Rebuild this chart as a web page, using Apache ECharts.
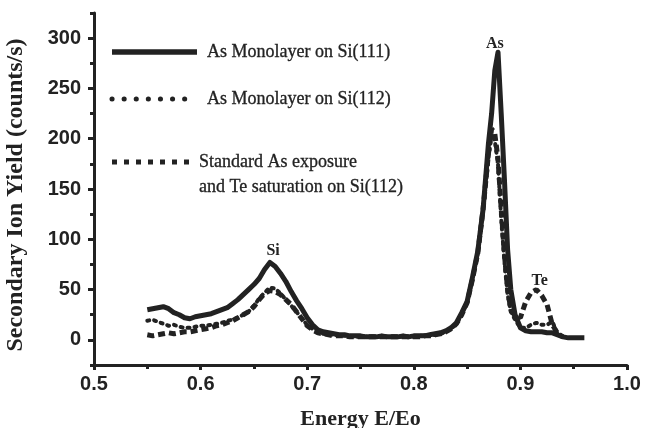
<!DOCTYPE html>
<html>
<head>
<meta charset="utf-8">
<script src="https://cdn.jsdelivr.net/npm/echarts@6/dist/echarts.min.js"></script>
<style>
  html, body { margin: 0; padding: 0; background: #fff; }
  #chart { width: 651px; height: 428px; }
</style>
</head>
<body>
<div id="chart"></div>
<script>
// Energy axis (E/Eo) shared by all three spectra
const energy = [
  0.550, 0.555, 0.560, 0.565, 0.570, 0.575, 0.580, 0.585, 0.590, 0.595,
  0.600, 0.605, 0.610, 0.615, 0.620, 0.625, 0.630, 0.635, 0.640, 0.645,
  0.650, 0.655, 0.660, 0.665, 0.670, 0.675, 0.680, 0.685, 0.690, 0.695,
  0.700, 0.705, 0.710, 0.715, 0.720, 0.725, 0.730, 0.735, 0.740, 0.745,
  0.750, 0.755, 0.760, 0.765, 0.770, 0.775, 0.780, 0.785, 0.790, 0.795,
  0.800, 0.805, 0.810, 0.815, 0.820, 0.825, 0.830, 0.835, 0.840, 0.845,
  0.850, 0.855, 0.860, 0.865, 0.870, 0.873, 0.876, 0.879, 0.882, 0.885,
  0.888, 0.891, 0.895, 0.900, 0.905, 0.910, 0.915, 0.920, 0.925, 0.930,
  0.935, 0.940, 0.945, 0.950, 0.955, 0.960
];

// Secondary ion yield (counts/s)
const asOnSi111 = [
  30, 31, 32, 33, 31, 27, 25, 22, 21, 23,
  24, 25, 26, 28, 30, 32, 36, 40, 45, 50,
  55, 61, 70, 77, 73, 66, 58, 48, 39, 31,
  22, 15, 10, 8, 7, 6, 5, 5, 4, 4,
  4, 3, 3, 3, 4, 3, 3, 3, 4, 3,
  4, 4, 4, 5, 6, 7, 9, 12, 17, 27,
  38, 62, 88, 130, 195, 225, 268, 286, 225, 160,
  90, 50, 25, 12, 9, 8, 8, 8, 7, 7,
  5, 3, 2, 2, 2, 2
];

const asOnSi112 = [
  19, 20, 18, 16, 14, 15, 13, 12, 12, 13,
  14, 14, 15, 16, 17, 19, 20, 22, 25, 28,
  34, 41, 47, 52, 51, 46, 40, 34, 28, 21,
  15, 11, 8, 6, 5, 5, 4, 4, 4, 3,
  3, 3, 3, 3, 3, 3, 3, 3, 3, 3,
  3, 4, 4, 4, 5, 6, 8, 11, 16, 25,
  37, 60, 86, 128, 180, 205, 198, 175, 120, 78,
  45, 28, 20, 12, 12, 15, 17, 15, 15, 18,
  6, 3, null, null, null, null
];

const asTeOnSi112 = [
  5, 4, 5, 6, 7, 6, 7, 8, 8, 9,
  10, 11, 12, 14, 15, 17, 19, 22, 25, 28,
  33, 40, 46, 49, 48, 45, 40, 35, 28, 21,
  14, 10, 7, 6, 5, 4, 4, 4, 3, 3,
  3, 3, 3, 3, 3, 3, 3, 3, 3, 3,
  3, 3, 4, 4, 5, 6, 8, 11, 16, 25,
  37, 60, 86, 130, 185, 210, 205, 180, 130, 85,
  50, 30, 24, 22, 38, 47, 50, 44, 35, 15,
  6, 3, null, null, null, null
];

const seriesNames = [
  'As Monolayer on Si(111)',
  'As Monolayer on Si(112)',
  'Standard As exposure\nand Te saturation on Si(112)'
];

// Peak labels: [text, energy, yield]
const peakLabels = [
  ['Si', 0.668, 88],
  ['As', 0.876, 294],
  ['Te', 0.918, 59]
];

const yLabelValues = [0, 50, 100, 150, 200, 250, 300];

const ink = '#222';
const serif = '"Liberation Serif", "Times New Roman", serif';
const sans = '"Liberation Sans", Arial, sans-serif';

const zip = (xs, ys) => xs.map((x, i) => [x, ys[i]]);

const chart = echarts.init(document.getElementById('chart'), null, { renderer: 'canvas' });

// Hand-placed key in the upper-left of the plot
const legendRows = [
  { y: 52, x2: 197, dash: null, width: 5.5, cap: 'butt', text: seriesNames[0], tx: 207 },
  { y: 99, x2: 190, dash: [0.1, 12], width: 5, cap: 'round', text: seriesNames[1], tx: 207 },
  { y: 162, x2: 190, dash: [5, 7], width: 5, cap: 'butt', text: seriesNames[2], tx: 199 }
];

const legendGraphics = [];
legendRows.forEach(r => {
  legendGraphics.push({
    type: 'line',
    shape: { x1: 112, y1: r.y, x2: r.x2, y2: r.y },
    style: { stroke: ink, lineWidth: r.width, lineDash: r.dash, lineCap: r.cap }
  });
  legendGraphics.push({
    type: 'text',
    x: r.tx,
    y: r.y - 12,
    style: {
      text: r.text,
      font: '18px ' + serif,
      fill: ink,
      lineHeight: 25,
      stroke: ink,
      lineWidth: 0.3
    }
  });
});

chart.setOption({
  animation: false,
  backgroundColor: '#fff',
  grid: { left: 94, right: 24, top: 13, bottom: 63, outerBoundsMode: 'none', containLabel: false },
  xAxis: {
    type: 'value',
    min: 0.5,
    max: 1.0,
    interval: 0.1,
    name: 'Energy E/Eo',
    nameLocation: 'middle',
    nameGap: 43,
    nameTextStyle: { fontFamily: serif, fontWeight: 'bold', fontSize: 22, color: ink },
    axisLine: { show: true, onZero: false, lineStyle: { color: ink, width: 3 } },
    axisTick: { show: true, length: 5, lineStyle: { color: ink, width: 3 } },
    minorTick: { show: true, splitNumber: 2, length: 4, lineStyle: { color: ink, width: 3 } },
    axisLabel: {
      margin: 9,
      fontFamily: sans, fontWeight: 'bold', fontSize: 20, color: ink,
      formatter: v => v.toFixed(1)
    },
    splitLine: { show: false }
  },
  yAxis: [
    {
      type: 'value',
      min: -25,
      max: 325,
      interval: 25,
      name: 'Secondary Ion Yield (counts/s)',
      nameLocation: 'middle',
      nameGap: 66,
      nameTextStyle: {
        fontFamily: serif, fontWeight: 'bold', fontSize: 24, color: ink,
        padding: [0, 12, 0, 0]
      },
      axisLine: { show: true, onZero: false, lineStyle: { color: ink, width: 3 } },
      axisTick: { show: true, length: 6, customValues: yLabelValues, lineStyle: { color: ink, width: 3 } },
      axisLabel: {
        margin: 13,
        customValues: yLabelValues,
        fontFamily: sans, fontWeight: 'bold', fontSize: 20, color: ink
      },
      splitLine: { show: false }
    },
    {
      // minor ticks every 25 counts/s
      type: 'value',
      position: 'left',
      min: -25,
      max: 325,
      interval: 25,
      axisLine: { show: false },
      axisTick: { show: true, length: 4, lineStyle: { color: ink, width: 3 } },
      axisLabel: { show: false },
      splitLine: { show: false }
    }
  ],
  graphic: legendGraphics,
  series: [
    {
      name: seriesNames[2],
      type: 'line',
      data: zip(energy, asTeOnSi112),
      showSymbol: false,
      connectNulls: false,
      lineStyle: { color: ink, width: 5, type: [7, 4] },
      z: 2
    },
    {
      name: seriesNames[1],
      type: 'line',
      data: zip(energy, asOnSi112),
      showSymbol: false,
      connectNulls: false,
      lineStyle: { color: ink, width: 4, type: [2, 5], cap: 'round' },
      z: 3
    },
    {
      name: seriesNames[0],
      type: 'line',
      data: zip(energy, asOnSi111),
      showSymbol: false,
      lineStyle: { color: ink, width: 5, join: 'round' },
      z: 4,
      markPoint: {
        symbol: 'circle',
        symbolSize: 0,
        silent: true,
        label: {
          show: true,
          position: 'inside',
          fontFamily: serif,
          fontWeight: 'bold',
          fontSize: 16,
          color: ink,
          formatter: p => p.name
        },
        data: peakLabels.map(([t, x, y]) => ({ name: t, coord: [x, y] }))
      }
    }
  ]
});
</script>
</body>
</html>
